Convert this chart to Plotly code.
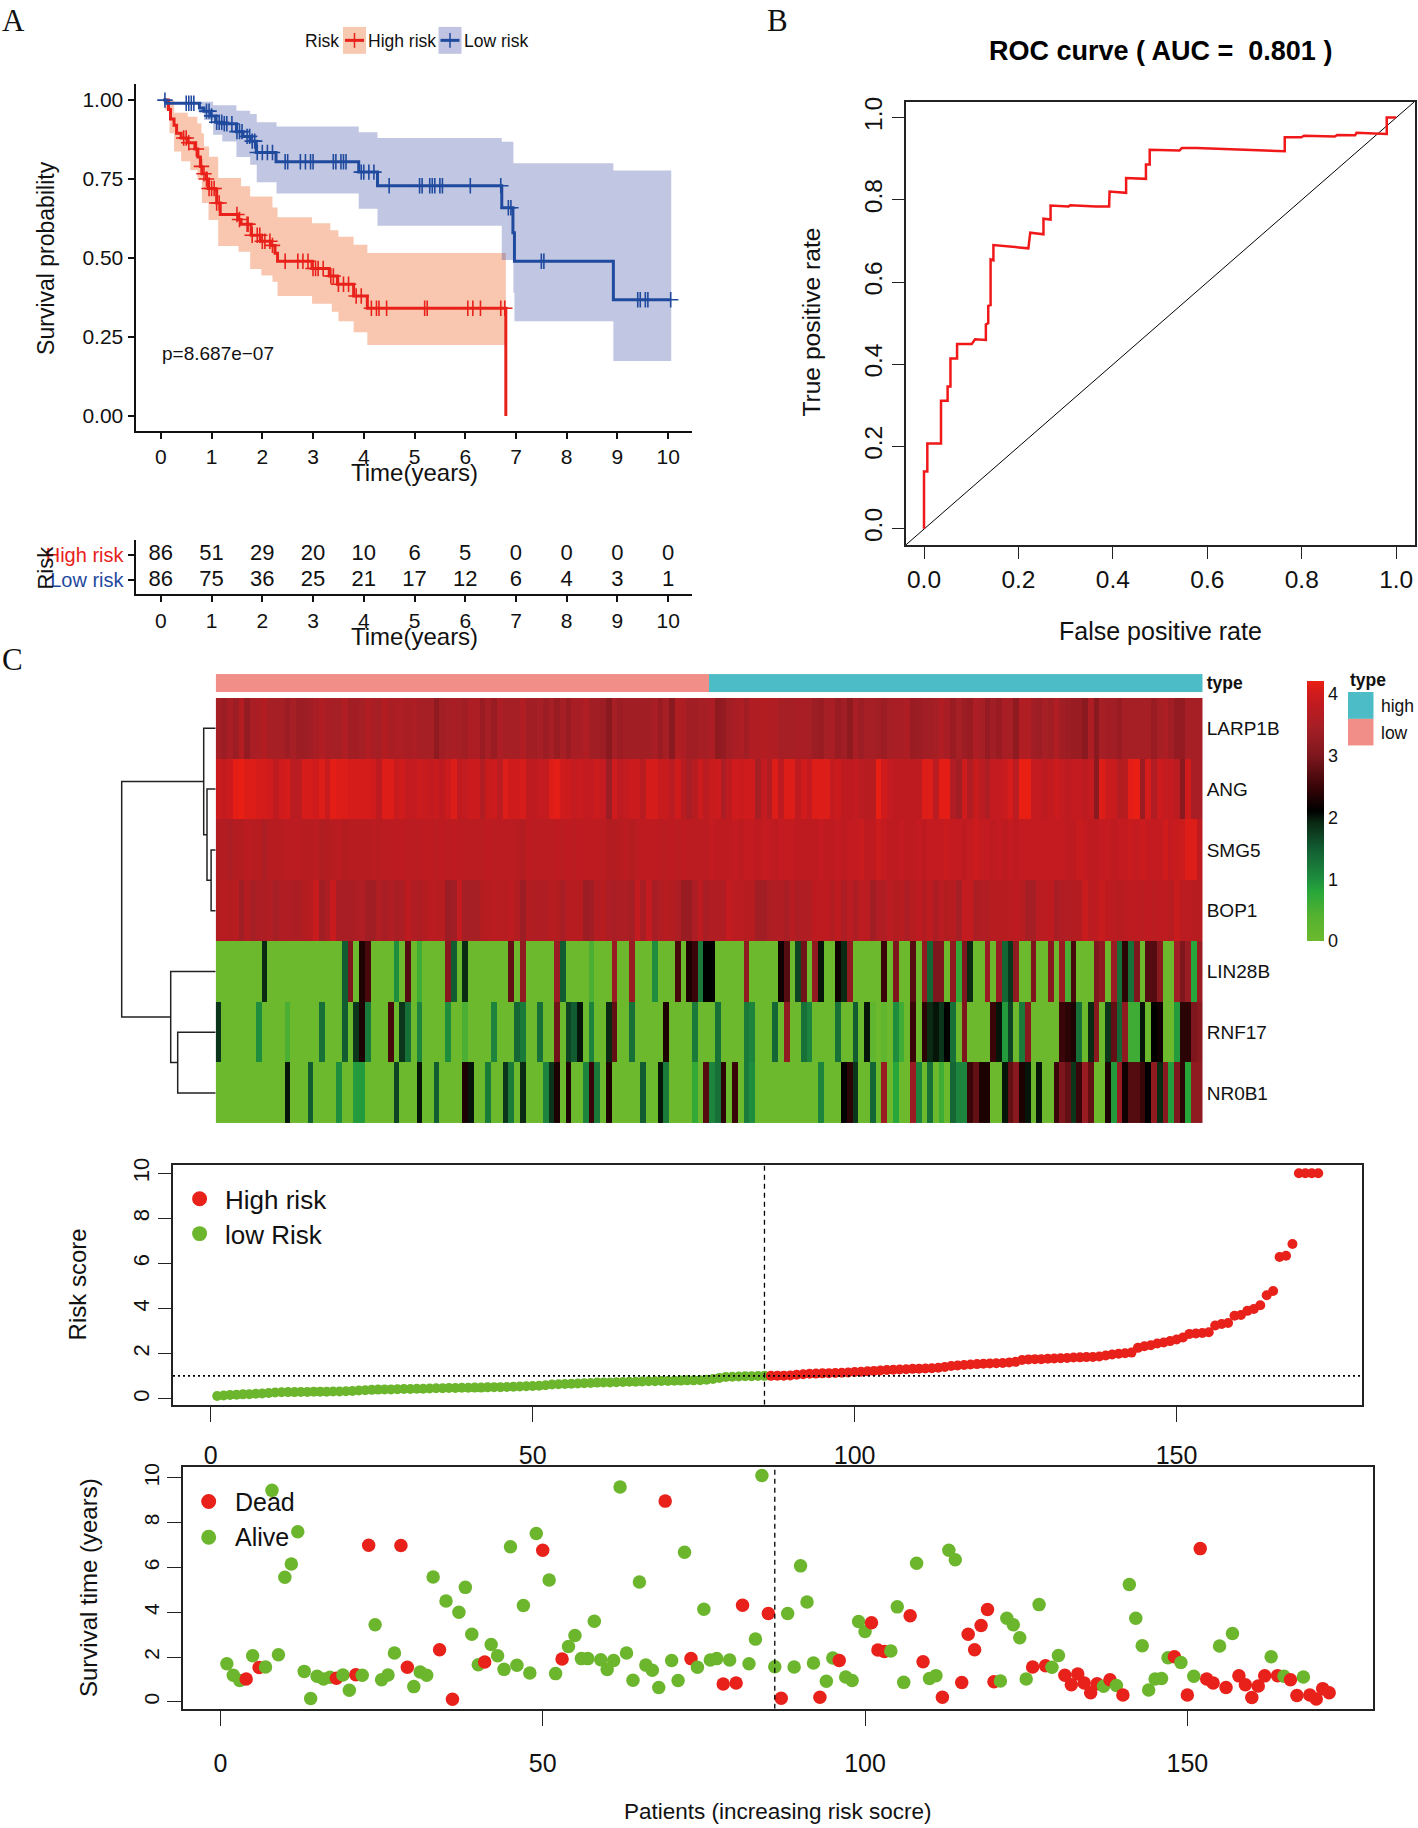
import plotly.graph_objects as go
import numpy as np

W, H = 1418, 1828
NARROW = "Liberation Sans Narrow, Liberation Sans, Arial"
SANS = "Liberation Sans, Arial"
SERIF = "Liberation Serif, Times New Roman"
RED = "#E8211A"
BLUE = "#1F4A9E"
GREEN = "#6CB62D"

# ---------- Panel A: Kaplan-Meier ----------
high_t = [0.05, 0.15, 0.19, 0.26, 0.31, 0.40, 0.53, 0.67, 0.73, 0.78, 0.81, 0.90, 0.94, 1.08, 1.10, 1.17, 1.53, 1.58, 1.78, 1.96, 2.16, 2.25, 2.30, 2.98, 3.32, 3.48, 3.80, 4.07, 6.80, 6.80]
high_s = [1.00, 0.97, 0.94, 0.92, 0.895, 0.88, 0.865, 0.845, 0.82, 0.79, 0.767, 0.75, 0.72, 0.716, 0.674, 0.638, 0.622, 0.607, 0.572, 0.553, 0.54, 0.515, 0.49, 0.467, 0.443, 0.417, 0.38, 0.341, 0.341, 0.0]
high_up_t = [0.08, 0.26, 0.53, 0.72, 0.80, 0.85, 0.95, 1.13, 1.58, 1.76, 2.20, 2.30, 2.98, 3.34, 3.50, 3.80, 4.07, 6.80]
high_up_s = [1.00, 0.96, 0.947, 0.926, 0.895, 0.853, 0.821, 0.753, 0.727, 0.695, 0.66, 0.629, 0.61, 0.588, 0.567, 0.542, 0.516, 0.516]
high_lo_t = [0.08, 0.17, 0.26, 0.40, 0.58, 0.72, 0.81, 0.94, 1.13, 1.53, 1.76, 1.98, 2.20, 2.30, 2.98, 3.37, 3.50, 3.80, 4.07, 6.80]
high_lo_s = [0.97, 0.895, 0.837, 0.806, 0.779, 0.748, 0.674, 0.62, 0.538, 0.52, 0.465, 0.445, 0.425, 0.38, 0.355, 0.33, 0.30, 0.265, 0.225, 0.225]
high_censor = [0.45, 0.5, 0.55, 0.7, 0.8, 0.85, 0.9, 0.95, 1.0, 1.05, 1.1, 1.15, 1.5, 1.55, 1.7, 1.72, 1.8, 1.9, 1.95, 2.0, 2.05, 2.15, 2.2, 2.45, 2.7, 2.8, 2.9, 3.0, 3.05, 3.1, 3.2, 3.35, 3.4, 3.5, 3.6, 3.7, 3.85, 3.95, 4.15, 4.25, 4.3, 4.45, 5.2, 5.25, 6.05, 6.15, 6.3, 6.7, 6.78]

low_t = [0.05, 0.10, 0.76, 0.85, 0.99, 1.08, 1.21, 1.49, 1.62, 1.76, 1.88, 2.27, 3.90, 4.27, 6.72, 6.94, 6.97, 8.92, 10.06]
low_s = [1.00, 0.99, 0.975, 0.965, 0.95, 0.93, 0.925, 0.90, 0.885, 0.87, 0.834, 0.805, 0.772, 0.729, 0.659, 0.58, 0.49, 0.368, 0.368]
low_up_t = [0.05, 0.76, 1.03, 1.49, 1.76, 1.89, 2.28, 3.90, 4.27, 6.72, 6.95, 8.92, 10.06]
low_up_s = [1.00, 0.995, 0.984, 0.966, 0.956, 0.93, 0.916, 0.898, 0.88, 0.868, 0.80, 0.777, 0.777]
low_lo_t = [0.05, 0.76, 0.85, 1.03, 1.21, 1.49, 1.76, 1.89, 2.28, 3.90, 4.27, 6.72, 6.95, 6.97, 8.92, 10.06]
low_lo_s = [1.00, 0.958, 0.937, 0.89, 0.869, 0.82, 0.795, 0.74, 0.704, 0.656, 0.602, 0.494, 0.39, 0.30, 0.174, 0.174]
low_censor = [0.08, 0.5, 0.55, 0.6, 0.65, 0.9, 0.95, 1.0, 1.1, 1.15, 1.2, 1.25, 1.3, 1.4, 1.5, 1.55, 1.6, 1.7, 1.75, 1.8, 1.85, 1.9, 2.0, 2.1, 2.2, 2.45, 2.5, 2.75, 2.85, 2.95, 3.0, 3.4, 3.45, 3.55, 3.6, 3.65, 3.95, 4.0, 4.1, 4.2, 4.5, 5.1, 5.15, 5.3, 5.35, 5.4, 5.5, 5.55, 6.1, 6.7, 6.85, 6.9, 7.5, 7.55, 9.4, 9.45, 9.55, 9.6, 10.05]

years = list(range(11))
table_high = [86, 51, 29, 20, 10, 6, 5, 0, 0, 0, 0]
table_low = [86, 75, 36, 25, 21, 17, 12, 6, 4, 3, 1]

# ---------- Panel B: ROC ----------
fpr = [0, 0, 0.007, 0.007, 0.036, 0.036, 0.05, 0.05, 0.056, 0.056, 0.07, 0.07, 0.101, 0.108, 0.131, 0.131, 0.136, 0.136, 0.141, 0.141, 0.147, 0.147, 0.221, 0.225, 0.253, 0.253, 0.268, 0.268, 0.306, 0.31, 0.364, 0.392, 0.393, 0.428, 0.428, 0.47, 0.47, 0.478, 0.478, 0.541, 0.546, 0.577, 0.764, 0.764, 0.799, 0.805, 0.87, 0.875, 0.913, 0.916, 0.98, 0.98, 1.0]
tpr = [0, 0.139, 0.139, 0.207, 0.207, 0.311, 0.311, 0.346, 0.346, 0.414, 0.414, 0.449, 0.449, 0.461, 0.459, 0.497, 0.5, 0.542, 0.544, 0.655, 0.653, 0.69, 0.682, 0.72, 0.716, 0.754, 0.752, 0.786, 0.784, 0.787, 0.784, 0.784, 0.82, 0.817, 0.853, 0.851, 0.886, 0.886, 0.922, 0.92, 0.926, 0.926, 0.918, 0.952, 0.952, 0.956, 0.954, 0.958, 0.957, 0.963, 0.96, 1.0, 1.0]

# ---------- Panel C: heatmap ----------
genes = ["LARP1B", "ANG", "SMG5", "BOP1", "LIN28B", "RNF17", "NR0B1"]
LARP1B = [3.45,3.35,3.5,3.35,3.65,3.25,3.5,3.55,3.65,3.45,3.45,3.45,3.35,3.45,3.35,3.35,3.4,3.5,3.6,3.5,3.45,3.45,3.6,3.4,3.4,3.45,3.6,3.5,3.45,3.65,3.5,3.55,3.55,3.5,3.55,3.45,3.45,3.45,3.2,3.4,3.45,3.5,3.45,
 3.4,3.55,3.55,3.3,3.45,3.3,3.55,3.45,3.45,3.45,3.6,3.4,3.4,3.45,3.35,3.45,3.3,3.45,3.3,3.5,3.5,3.6,3.4,3.4,3.35,3.15,3.45,3.35,3.4,3.4,3.4,3.4,3.4,3.5,3.3,3.45,3.15,3.6,3.55,3.4,3.4,3.45,3.45,
 3.55,3.2,3.25,3.4,3.5,3.55,3.4,3.6,3.6,3.65,3.6,3.6,3.45,3.45,3.45,3.5,3.5,3.45,3.35,3.3,3.45,3.5,3.3,3.4,3.2,3.5,3.35,3.45,3.45,3.4,3.35,3.45,3.5,3.5,3.55,3.3,3.35,3.4,3.4,3.45,3.6,3.5,3.3,
 3.45,3.35,3.3,3.55,3.45,3.25,3.4,3.3,3.5,3.45,3.2,3.6,3.6,3.4,3.35,3.45,3.4,3.6,3.4,3.35,3.3,3.3,3.15,3.55,3.15,3.45,3.4,3.4,3.3,3.45,3.45,3.45,3.45,3.45,3.3,3.45,3.55,3.4,3.25,3.25,3.45,3.45,3.45]
ANG = [3.95,3.85,3.95,4.15,4.2,4.1,4.1,4.05,4.05,4.0,3.8,4.0,4.05,3.75,3.75,4.05,4.05,4.0,4.1,3.9,4.15,4.1,4.1,4.05,4.05,4.05,4.05,4.0,3.8,4.1,4.1,3.9,4.0,3.85,3.85,3.95,3.9,3.85,3.9,3.8,3.95,4.1,3.8,
 3.85,3.95,3.95,3.6,3.9,3.95,3.75,4.1,4.0,4.0,4.05,3.8,3.8,3.85,3.85,4.1,4.15,4.0,3.95,3.85,3.9,3.85,3.85,3.95,3.85,3.35,4.0,3.8,3.85,3.95,3.95,3.7,4.05,4.05,3.9,3.9,3.75,4.0,3.7,3.5,3.7,3.95,3.75,
 3.9,3.95,3.55,3.8,4.0,3.95,4.0,4.0,3.45,3.85,3.6,4.1,3.8,4.1,4.1,3.8,4.0,3.85,4.1,4.1,4.1,3.85,3.95,3.8,3.8,3.85,3.75,3.7,3.7,4.2,4.0,3.85,3.8,3.8,3.8,3.8,3.8,4.1,4.1,3.75,4.15,4.15,3.6,
 3.4,4.0,3.6,3.9,3.75,3.55,3.85,3.85,3.9,4.05,3.75,4.2,4.2,3.85,3.85,3.8,3.85,3.95,3.85,3.8,3.85,3.85,3.8,3.85,3.15,4.1,3.95,3.9,3.65,3.7,4.15,4.2,3.3,4.05,3.6,3.95,3.85,3.85,3.75,3.1,4.0,3.5,3.5]
SMG5 = [3.65,3.65,3.55,3.65,3.65,3.75,3.7,3.7,3.55,3.7,3.7,3.7,3.75,3.75,3.75,3.7,3.7,3.75,3.6,3.65,3.7,3.75,3.65,3.7,3.7,3.7,3.7,3.75,3.7,3.75,3.75,3.75,3.8,3.75,3.75,3.75,3.8,3.8,3.75,3.8,3.75,3.8,3.75,
 3.75,3.75,3.75,3.75,3.8,3.75,3.75,3.75,3.75,3.7,3.65,3.8,3.75,3.75,3.75,3.75,3.8,3.75,3.8,3.75,3.8,3.8,3.8,3.8,3.75,3.65,3.65,3.7,3.75,3.65,3.75,3.8,3.8,3.8,3.75,3.75,3.8,3.75,3.8,3.75,3.75,3.75,3.75,
 3.85,3.8,3.8,3.8,3.85,3.8,3.85,3.85,3.8,3.85,3.85,3.8,3.85,3.85,3.85,3.8,3.8,3.8,3.8,3.85,3.8,3.8,3.85,3.8,3.85,3.85,3.9,3.8,3.8,3.95,3.85,3.8,3.8,3.85,3.8,3.8,3.85,3.8,3.85,3.85,3.85,3.9,3.85,
 3.85,3.8,3.85,3.95,3.85,3.85,3.8,3.85,3.8,3.85,3.8,3.85,3.85,3.85,3.85,3.85,3.85,3.85,3.85,3.8,3.8,3.9,3.85,3.8,3.8,3.85,3.85,3.8,3.85,3.85,3.9,3.85,3.95,3.85,3.85,3.85,4.0,3.85,3.9,3.95,4.1,4.1,3.8]
BOP1 = [3.65,3.7,3.65,3.7,3.4,3.65,3.45,3.55,3.55,3.6,3.45,3.6,3.6,3.55,3.55,3.65,3.7,3.9,3.4,3.55,3.9,3.5,3.5,3.5,3.55,3.6,3.4,3.4,3.6,3.5,3.6,3.5,3.55,3.8,3.6,3.55,3.65,3.75,3.7,3.7,3.35,3.4,3.85,
 3.45,3.45,3.45,3.65,3.7,3.75,3.7,3.7,3.8,3.65,3.35,3.65,3.6,3.6,3.6,3.7,3.65,3.5,3.7,3.7,3.7,3.35,3.4,3.65,3.7,3.55,3.5,3.55,3.55,3.45,3.85,3.5,3.85,3.5,3.6,3.7,3.65,3.55,3.3,3.3,3.55,3.8,3.5,
 3.6,3.6,3.6,3.85,3.75,3.75,3.7,3.7,3.4,3.4,3.55,3.6,3.6,3.5,3.7,3.55,3.6,3.6,3.8,3.8,3.8,3.65,3.8,3.55,3.75,3.55,3.75,3.75,3.4,3.6,3.6,3.75,3.65,3.7,3.55,3.7,3.8,3.65,3.8,3.55,3.75,3.65,3.7,
 3.45,3.85,3.85,3.55,3.6,3.6,3.7,3.7,3.7,3.75,3.8,3.7,3.45,3.45,3.75,3.75,3.8,3.5,3.6,3.6,3.65,3.65,3.9,3.75,3.8,3.9,3.8,3.75,3.7,3.75,3.8,3.8,3.75,3.8,3.75,3.8,3.8,3.7,3.9,3.75,3.75,3.7,3.7]
# stripes that differ from the pale-green background of the three low rows (column: value)
LIN28B_stripes = {8:1.9,22:1.5,23:3.0,25:2.3,26:2.6,31:1.0,33:2.7,35:0.6,40:3.1,41:1.5,43:1.9,51:2.8,53:3.2,59:3.3,60:1.5,65:0.5,69:3.3,72:3.3,76:1.0,80:2.6,82:2.3,83:2.5,84:1.2,85:2.1,86:2.1,92:3.2,98:2.2,99:2.7,101:1.7,102:2.9,104:3.2,105:2.0,108:2.2,109:1.9,110:3.2,116:2.5,118:3.0,121:2.7,123:3.2,124:1.4,125:3.0,126:3.0,128:3.2,129:0.7,130:3.0,131:1.9,134:3.3,136:3.3,137:1.4,138:1.8,139:3.2,142:3.0,145:3.1,147:3.3,148:0.5,149:2.6,153:3.0,154:3.2,156:3.3,157:1.3,158:2.4,159:1.3,160:3.0,162:2.7,163:2.7,164:3.1,167:3.4,168:3.0,169:3.3,170:0.8,171:3.3}
RNF17_stripes = {0:1.8,7:1.0,12:0.5,18:1.3,22:1.5,24:1.8,25:2.3,26:1.2,30:2.6,32:1.8,33:1.3,35:1.1,40:1.0,43:0.5,48:1.1,52:1.4,53:1.2,56:1.3,59:2.9,61:1.7,62:1.5,63:2.0,65:1.1,68:1.9,69:2.8,72:1.3,78:2.3,83:1.2,87:1.3,92:1.2,93:1.1,97:1.4,99:3.2,102:1.3,103:1.1,108:1.3,111:1.5,113:2.0,114:0.2,116:0.2,118:1.0,119:0.6,121:2.5,123:2.4,124:1.9,125:2.0,126:1.8,127:2.1,128:1.3,130:3.0,135:2.5,136:2.0,137:0.9,138:1.7,140:1.2,141:3.1,147:2.5,148:2.4,149:2.3,150:1.3,152:1.9,153:3.1,155:1.8,156:2.8,157:1.4,158:3.2,159:0.6,160:0.6,161:2.0,163:2.1,164:2.2,167:0.9,168:2.4,169:2.4,170:3.0,171:3.1}
NR0B1_stripes = {12:2.0,16:1.5,21:1.0,24:0.9,25:0.9,31:1.7,35:2.0,38:1.5,43:2.3,44:2.0,47:1.2,50:1.8,51:1.2,53:1.9,57:1.1,58:1.8,59:2.3,61:2.3,64:1.1,65:2.5,66:1.2,68:2.3,74:1.5,77:2.0,78:1.2,83:0.7,85:2.7,86:1.1,87:1.3,88:2.4,90:2.5,92:1.2,93:1.0,105:1.1,109:2.1,110:2.4,111:1.8,114:1.4,116:3.3,118:0.8,121:3.3,122:1.1,124:1.3,126:0.6,128:1.4,129:1.1,130:1.1,131:2.5,132:2.8,133:2.3,134:2.3,137:2.0,138:2.8,139:3.1,140:2.3,141:2.0,143:2.0,146:2.5,147:3.0,148:2.8,149:1.8,150:2.5,151:3.3,152:2.8,155:2.3,156:0.9,157:3.3,158:2.2,159:2.7,160:2.7,161:2.5,162:2.1,163:3.2,164:1.9,165:3.1,166:0.9,167:3.0,168:2.4,169:0.8,170:3.2,171:3.2}

# dendrogram merges: height, row-top, row-bottom, child-height-top, child-height-bottom
dendro_merges = [(4.6, 2, 3, 0, 0), (8.7, 1, 2.5, 0, 4.6), (12, 0, 1.75, 0, 8.7),
                 (38, 5, 6, 0, 0), (45, 4, 5.5, 0, 38), (94, 0.875, 4.75, 12, 45)]

risk_score = [.13,.15,.17,.18,.2,.21,.23,.24,.26,.28,.29,.3,.3,.31,.31,.32,.32,.32,.33,.33,.34,.35,.37,.38,.4,.41,.42,.42,.43,.44,
 .44,.45,.45,.46,.47,.47,.48,.48,.49,.49,.5,.5,.51,.52,.52,.53,.54,.55,.56,.57,.58,.6,.64,.65,.66,.67,.68,.69,.7,.72,
 .73,.73,.74,.75,.76,.76,.77,.78,.78,.79,.79,.8,.81,.82,.82,.83,.85,.88,.93,.97,.98,.99,1.0,1.0,1.01,1.02,
 1.02,1.03,1.03,1.04,1.07,1.09,1.11,1.12,1.13,1.14,1.15,1.16,1.17,1.19,1.2,1.22,1.24,1.26,1.28,1.29,1.3,1.31,1.33,1.34,
 1.35,1.36,1.38,1.41,1.46,1.48,1.5,1.52,1.54,1.56,1.57,1.58,1.59,1.61,1.64,1.72,1.75,1.76,1.76,1.78,1.79,1.8,1.81,1.83,1.84,1.85,
 1.86,1.88,1.92,1.97,2.0,2.02,2.05,2.26,2.33,2.38,2.45,2.5,2.56,2.63,2.72,2.88,2.9,2.92,2.95,3.25,3.32,3.36,3.68,3.72,3.9,3.98,
 4.15,4.59,4.78,6.29,6.34,6.86,10,10,10,10]
risk_cut = 86
risk_line = 1.02

survival_time = [1.70,1.19,.95,1.02,2.06,1.53,1.56,9.44,2.10,5.56,6.15,7.59,1.36,.15,1.14,1.02,1.10,1.05,1.2,.52,1.21,1.19,6.99,3.44,.99,1.2,2.18,6.98,1.54,.68,
 1.33,1.19,5.57,2.33,4.5,.12,4.0,5.11,3.02,1.66,1.78,2.56,2.06,1.45,6.92,1.63,4.3,1.29,7.51,6.77,5.44,1.26,1.91,2.47,2.96,1.93,1.93,3.6,1.88,1.44,
 1.85,9.59,2.18,.96,5.35,1.64,1.41,.64,8.96,1.85,.95,6.68,1.93,1.54,4.13,1.87,1.93,.8,1.87,.84,4.31,1.7,2.8,10.1,3.94,1.57,.16,3.94,1.56,6.07,
 4.46,1.73,.21,.92,1.96,1.85,1.11,.95,3.59,3.14,3.53,2.31,2.25,2.27,4.24,.87,3.84,6.19,1.79,1.04,1.17,.21,6.77,6.34,.86,3.02,2.33,3.41,4.12,.9,
 .93,3.73,3.44,2.86,1.02,1.56,4.34,1.61,1.54,2.07,1.19,.76,1.24,.84,.41,.81,.7,.99,.73,.31,5.24,3.73,2.5,.53,1.02,1.04,1.97,2.01,1.76,.31,
 1.14,6.84,1.02,.84,2.49,.64,3.05,1.16,.76,.19,.71,1.16,2.01,1.17,1.14,.99,.28,1.11,.31,.13,.59,.41]
dead_patients = [4,6,18,21,23,28,29,34,36,41,50,53,69,73,78,80,81,85,87,93,96,101,102,103,107,109,112,115,116,117,118,119,120,126,128,131,132,133,134,135,136,138,140,148,150,152,153,154,156,158,159,160,161,162,164,166,167,169,170,171,172]

assert len(risk_score) == 172 and len(survival_time) == 172
for r in (LARP1B, ANG, SMG5, BOP1):
    assert len(r) == 172, len(r)


def X(p):
    return p / W


def Y(p):
    return 1 - p / H


def steps(t, s):
    xs, ys = [t[0]], [s[0]]
    for a, b in zip(t[1:], s[1:]):
        xs += [a, a]
        ys += [ys[-1], b]
    return xs, ys


def km_at(times, ts, ss):
    idx = np.searchsorted(ts, times, side="right") - 1
    return [ss[max(i, 0)] for i in idx]


def expand(d):
    row = [0.0] * 172
    for k, v in d.items():
        row[k] = v
    return row


fig = go.Figure()

# ---- A ribbons and curves
for (ut, us, lt, ls, col) in [(high_up_t, high_up_s, high_lo_t, high_lo_s, "rgba(237,95,30,0.35)"),
                              (low_up_t, low_up_s, low_lo_t, low_lo_s, "rgba(31,50,150,0.28)")]:
    ux, uy = steps(ut, us)
    lx, ly = steps(lt, ls)
    fig.add_trace(go.Scatter(x=ux + lx[::-1], y=uy + ly[::-1], mode="lines", fill="toself",
                             fillcolor=col, line=dict(width=0), hoverinfo="skip", showlegend=False,
                             xaxis="x", yaxis="y"))
for (t, s, cens, col) in [(high_t, high_s, high_censor, RED), (low_t, low_s, low_censor, BLUE)]:
    fig.add_trace(go.Scatter(x=t, y=s, mode="lines", line=dict(color=col, width=3, shape="hv"),
                             showlegend=False, xaxis="x", yaxis="y"))
    fig.add_trace(go.Scatter(x=cens, y=km_at(cens, t[:-1] if col == RED else t, s[:-1] if col == RED else s), mode="markers",
                             marker=dict(symbol="cross-thin", size=11, line=dict(color=col, width=1.6)),
                             showlegend=False, xaxis="x", yaxis="y"))

# ---- risk table
fig.add_trace(go.Scatter(x=years, y=[1] * 11, mode="text", text=[str(v) for v in table_high],
                         textfont=dict(family=NARROW, size=22, color="#111"), showlegend=False, xaxis="x2", yaxis="y2"))
fig.add_trace(go.Scatter(x=years, y=[0] * 11, mode="text", text=[str(v) for v in table_low],
                         textfont=dict(family=NARROW, size=22, color="#111"), showlegend=False, xaxis="x2", yaxis="y2"))

# ---- B ROC
fig.add_trace(go.Scatter(x=[-0.039, 1.039], y=[-0.04, 1.039], mode="lines", line=dict(color="black", width=1),
                         showlegend=False, xaxis="x3", yaxis="y3"))
fig.add_trace(go.Scatter(x=fpr, y=tpr, mode="lines", line=dict(color="#F01818", width=2.5),
                         showlegend=False, xaxis="x3", yaxis="y3"))

# ---- C dendrogram
for h, y1, y2, c1, c2 in dendro_merges:
    fig.add_trace(go.Scatter(x=[c1, h, h, c2], y=[y1, y1, y2, y2], mode="lines",
                             line=dict(color="#222", width=1.5), showlegend=False, xaxis="x4", yaxis="y4"))

# ---- C heatmap
zmat = [LARP1B, ANG, SMG5, BOP1, expand(LIN28B_stripes), expand(RNF17_stripes), expand(NR0B1_stripes)]
ZMAX = 4.2
stops = [(0, "#6CB92D"), (0.4, "#55B230"), (0.8, "#27A63A"), (1.0, "#1E8E3E"), (1.5, "#125C32"), (1.9, "#0A2A14"),
         (2.1, "#000000"), (2.5, "#3A0508"), (3.0, "#7E171D"), (3.45, "#A51F25"), (3.8, "#BE1B20"), (4.0, "#D01B1C"), (4.2, "#EA1F14")]
fig.add_trace(go.Heatmap(z=zmat, x=list(range(172)), y=list(range(7)), zmin=0, zmax=ZMAX, xgap=0, ygap=0,
                         colorscale=[[v / ZMAX, c] for v, c in stops], hoverinfo="skip",
                         xaxis="x5", yaxis="y5",
                         colorbar=dict(x=X(1297), xanchor="left", y=Y(948.3), yanchor="bottom", lenmode="pixels", len=280,
                                       thicknessmode="pixels", thickness=17, outlinewidth=0, tickvals=[0, 1, 2, 3, 4],
                                       ticks="", ticklabelposition="outside",
                                       tickfont=dict(family=SANS, size=18, color="#111"))))
fig.add_trace(go.Heatmap(z=[[0] * risk_cut + [1] * risk_cut], x=list(range(172)), y=["type"], zmin=0, zmax=1,
                         colorscale=[[0, "#F08E87"], [0.5, "#F08E87"], [0.5, "#4CBCC6"], [1, "#4CBCC6"]],
                         showscale=False, hoverinfo="skip", xaxis="x6", yaxis="y6"))

# ---- risk score
patients = list(range(1, 173))
fig.add_trace(go.Scatter(x=patients, y=risk_score, mode="markers",
                         marker=dict(size=10, color=[GREEN if p <= risk_cut else RED for p in patients], line=dict(width=0)),
                         showlegend=False, xaxis="x7", yaxis="y7"))
fig.add_trace(go.Scatter(x=[risk_cut, risk_cut], y=[-0.265, 10.38], mode="lines",
                         line=dict(color="black", width=1.3, dash="5px,4px"), showlegend=False, xaxis="x7", yaxis="y7"))
fig.add_trace(go.Scatter(x=[-5.86, 178.8], y=[risk_line, risk_line], mode="lines",
                         line=dict(color="black", width=1.6, dash="2px,3px"), showlegend=False, xaxis="x7", yaxis="y7"))

# ---- survival
dead = set(dead_patients)
fig.add_trace(go.Scatter(x=patients, y=survival_time, mode="markers",
                         marker=dict(size=13.5, color=[RED if p in dead else GREEN for p in patients], line=dict(width=0)),
                         showlegend=False, xaxis="x8", yaxis="y8"))
fig.add_trace(go.Scatter(x=[risk_cut, risk_cut], y=[-0.311, 10.47], mode="lines",
                         line=dict(color="black", width=1.3, dash="5px,4px"), showlegend=False, xaxis="x8", yaxis="y8"))


def dom_x(a, b):
    return [X(a), X(b)]


def dom_y(top, bottom):
    return [Y(bottom), Y(top)]


# ---- annotations
anns = []


def text(px, py, s, size, family=SANS, color="#111", angle=0, xanchor="center", bold=False):
    anns.append(dict(x=X(px), y=Y(py), xref="paper", yref="paper", text=f"<b>{s}</b>" if bold else s, showarrow=False,
                     font=dict(family=family, size=size, color=color), textangle=angle, xanchor=xanchor, yanchor="middle"))


text(13, 14, "A", 31, SERIF)
text(777, 14, "B", 31, SERIF)
text(12, 655, "C", 31, SERIF)

text(321.5, 34, "Risk", 17.5, NARROW)
text(402, 34, "High risk", 17.5, NARROW)
text(496, 34, "Low risk", 17.5, NARROW)
text(46, 252, "Survival probability", 23, SANS, angle=-90)
text(414, 467.5, "Time(years)", 24, NARROW)
text(218, 348, "p=8.687e\u221207", 19, NARROW)
text(46, 563, "Risk", 22, SANS, angle=-90)
text(414, 632, "Time(years)", 24, NARROW)

text(1160, 44, "ROC curve ( AUC =\u00a0\u00a00.801 )", 27, SANS, bold=True, color="black")
text(1160, 627, "False positive rate", 25, SANS)
text(812, 317, "True positive rate", 24.6, SANS, angle=-90)

text(1348, 676, "type", 17.5, SANS, xanchor="left", bold=True)
text(1379, 702, "high", 17.5, SANS, xanchor="left")
text(1379, 729, "low", 17.5, SANS, xanchor="left")

text(77, 1283, "Risk score", 24, SANS, angle=-90)
text(222.5, 1198, "High risk", 26, SANS, xanchor="left")
text(222.5, 1233, "low Risk", 26, SANS, xanchor="left")

text(88, 1588, "Survival time (years)", 24, SANS, angle=-90)
text(232.5, 1502, "Dead", 25, SANS, xanchor="left")
text(232.5, 1537, "Alive", 25, SANS, xanchor="left")
text(778, 1812.5, "Patients (increasing risk socre)", 22.5, SANS)

# ---- legend keys (paper-space shapes)
shapes = []


def rect(x0, y0, x1, y1, col):
    shapes.append(dict(type="rect", xref="paper", yref="paper", x0=X(x0), x1=X(x1), y0=Y(y0), y1=Y(y1),
                       fillcolor=col, line=dict(width=0), layer="below"))


def seg(x0, y0, x1, y1, col, w):
    shapes.append(dict(type="line", xref="paper", yref="paper", x0=X(x0), x1=X(x1), y0=Y(y0), y1=Y(y1),
                       line=dict(color=col, width=w)))


def dot(cx, cy, d, col):
    shapes.append(dict(type="circle", xref="paper", yref="paper", x0=X(cx - d / 2), x1=X(cx + d / 2), y0=Y(cy + d / 2), y1=Y(cy - d / 2),
                       fillcolor=col, line=dict(width=0)))


rect(343, 20, 366, 47, "#F7C9B0")
rect(438.5, 20, 461.5, 47, "#C0C3E1")
seg(345, 33.5, 364, 33.5, RED, 3)
seg(354.5, 26, 354.5, 41, RED, 1.5)
seg(440.5, 33.5, 459.5, 33.5, BLUE, 3)
seg(450, 26, 450, 41, BLUE, 1.5)
rect(1348, 688, 1373.5, 715, "#4CBCC6")
rect(1348, 715, 1373.5, 741.7, "#F08E87")
dot(199.6, 1197, 15, RED)
dot(199.6, 1232, 15, GREEN)
dot(208.7, 1501, 15, RED)
dot(208.7, 1537, 15, GREEN)

ax_a = dict(showgrid=False, zeroline=False, showline=True, linecolor="#111", linewidth=2, ticks="outside", ticklen=6, tickwidth=1.5, tickcolor="#111")
tick_narrow = dict(family=NARROW, size=21, color="#111")
box = dict(showgrid=False, zeroline=False, showline=True, mirror=True, linecolor="#222", linewidth=1.5, ticks="outside", tickwidth=1.2, tickcolor="#222")
blank = dict(showgrid=False, zeroline=False, showline=False, showticklabels=False, ticks="")

fig.update_layout(
    width=W, height=H, margin=dict(l=0, r=0, t=0, b=0, pad=0), autosize=False,
    paper_bgcolor="white", plot_bgcolor="white", showlegend=False,
    annotations=anns, shapes=shapes,
    # A
    xaxis=dict(domain=dom_x(135.5, 692), range=[-0.5, 10.47], tickvals=years, tickfont=tick_narrow, **ax_a),
    yaxis=dict(domain=dom_y(77, 426), range=[-0.048, 1.052], tickvals=[0, .25, .5, .75, 1], ticktext=["0.00", "0.25", "0.50", "0.75", "1.00"],
               tickfont=tick_narrow, **ax_a),
    # risk table
    xaxis2=dict(domain=dom_x(135.5, 692), range=[-0.5, 10.47], tickvals=years, tickfont=tick_narrow, **ax_a),
    yaxis2=dict(domain=dom_y(535, 590), range=[-0.556, 1.584], tickvals=[1, 0],
                ticktext=[f"<span style='color:{RED}'>High risk</span>", f"<span style='color:{BLUE}'>Low risk</span>"],
                tickfont=dict(family=NARROW, size=20), **ax_a),
    # B
    xaxis3=dict(domain=dom_x(905.6, 1414.6), range=[-0.039, 1.039], tickvals=[0, .2, .4, .6, .8, 1], ticktext=["0.0", "0.2", "0.4", "0.6", "0.8", "1.0"],
                ticklen=12, tickfont=dict(family=SANS, size=24.5, color="#111"), **box),
    yaxis3=dict(domain=dom_y(95, 540.5), range=[-0.04, 1.039], tickvals=[0, .2, .4, .6, .8, 1], ticktext=["0.0", "0.2", "0.4", "0.6", "0.8", "1.0"],
                ticklen=12, tickangle=-90, tickfont=dict(family=SANS, size=24.5, color="#111"), **box),
    # dendrogram
    xaxis4=dict(domain=dom_x(110, 215.7), range=[105.7, 0], **blank),
    yaxis4=dict(domain=dom_y(694, 1121.3), range=[6.5, -0.5], **blank),
    # heatmap
    xaxis5=dict(domain=dom_x(215.7, 1202.7), range=[-0.5, 171.5], **blank),
    yaxis5=dict(domain=dom_y(694, 1121.3), range=[6.5, -0.5], side="right", tickvals=list(range(7)), ticktext=genes,
                showgrid=False, zeroline=False, showline=False, ticks="", ticklabelstandoff=3,
                tickfont=dict(family=SANS, size=19, color="#111"), anchor="x5"),
    # annotation bar
    xaxis6=dict(domain=dom_x(215.7, 1202.7), range=[-0.5, 171.5], **blank),
    yaxis6=dict(domain=dom_y(670, 688.3), side="right", tickvals=["type"], ticktext=["<b>type</b>"],
                showgrid=False, zeroline=False, showline=False, ticks="", ticklabelstandoff=3,
                tickfont=dict(family=SANS, size=17.5, color="#111"), anchor="x6"),
    # risk score
    xaxis7=dict(domain=dom_x(173, 1362), range=[-5.86, 178.8], tickvals=[0, 50, 100, 150], ticklen=15, ticklabelstandoff=12,
                tickfont=dict(family=NARROW, size=25, color="#111"), **box),
    yaxis7=dict(domain=dom_y(1162.7, 1404), range=[-0.265, 10.38], tickvals=[0, 2, 4, 6, 8, 10], ticklen=13, tickangle=-90,
                tickfont=dict(family=SANS, size=22, color="#111"), **box),
    # survival
    xaxis8=dict(domain=dom_x(182.7, 1373), range=[-5.85, 178.8], tickvals=[0, 50, 100, 150], ticklen=15, ticklabelstandoff=16,
                tickfont=dict(family=NARROW, size=25, color="#111"), **box),
    yaxis8=dict(domain=dom_y(1466.7, 1709.3), range=[-0.311, 10.47], tickvals=[0, 2, 4, 6, 8, 10], ticklen=14, tickangle=-90,
                tickfont=dict(family=SANS, size=21, color="#111"), **box),
)
for i in range(1, 9):
    sfx = "" if i == 1 else str(i)
    fig.layout[f"xaxis{sfx}"].anchor = f"y{sfx}"
    fig.layout[f"yaxis{sfx}"].anchor = f"x{sfx}"

fig.write_html("out.html", config=dict(displayModeBar=False, responsive=False),
               post_script="document.body.style.margin='0';document.documentElement.style.overflow='hidden';")
